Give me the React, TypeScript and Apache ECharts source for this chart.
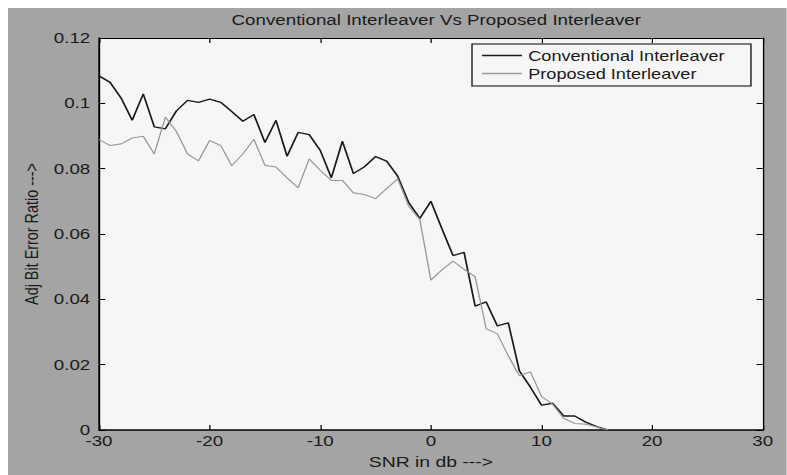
import React, { useEffect, useRef } from "react";
import * as echarts from "echarts";

const snr = [-30,-29,-28,-27,-26,-25,-24,-23,-22,-21,-20,-19,-18,-17,-16,-15,-14,-13,-12,-11,-10,-9,-8,-7,-6,-5,-4,-3,-2,-1,0,1,2,3,4,5,6,7,8,9,10,11,12,13,14,15,16];
const conventional = [0.1084,0.1064,0.1016,0.0948,0.1029,0.0928,0.0922,0.0977,0.1009,0.1003,0.1013,0.1003,0.0975,0.0945,0.0966,0.0880,0.0948,0.0838,0.0911,0.0904,0.0856,0.0772,0.0884,0.0785,0.0806,0.0837,0.0823,0.0777,0.0696,0.0648,0.0700,0.0616,0.0534,0.0544,0.0379,0.0392,0.0319,0.0328,0.0181,0.0131,0.0076,0.0082,0.0043,0.0043,0.0024,0.0010,0.0];
const proposed = [0.0889,0.0871,0.0876,0.0894,0.0899,0.0845,0.0958,0.0914,0.0845,0.0824,0.0886,0.0871,0.0809,0.0845,0.0890,0.0810,0.0805,0.0772,0.0741,0.0830,0.0795,0.0764,0.0764,0.0726,0.0721,0.0708,0.0739,0.0769,0.0685,0.0644,0.0459,0.0490,0.0517,0.0492,0.0469,0.0310,0.0295,0.0227,0.0166,0.0178,0.0103,0.0079,0.0036,0.0020,0.0018,0.0009,0.0];
const xTicks = [-30,-20,-10,0,10,20,30];
const yTicks = [0,0.02,0.04,0.06,0.08,0.1,0.12];

const FONT = "Liberation Sans, Arial, sans-serif";
const SX = 1.25; // the reference figure is stretched horizontally
const CW = 779 / SX;
const CH = 467;

export default function App() {
  const ref = useRef<HTMLDivElement>(null);
  useEffect(() => {
    document.body.style.margin = "0";
    const chart = echarts.init(ref.current!, null, { renderer: "svg" });
    const axisCommon = {
      axisLine: { show: true, onZero: false, lineStyle: { color: "#000", width: 1.5 } },
      axisTick: { show: true, inside: true, length: 5, lineStyle: { color: "#000" } },
      splitLine: { show: false },
    };
    chart.setOption({
      animation: false,
      backgroundColor: "#a4a4a4",
      title: {
        text: "Conventional Interleaver Vs Proposed Interleaver",
        left: 337.6,
        textAlign: "center",
        top: 0,
        textStyle: { fontFamily: FONT, fontSize: 15, fontWeight: "normal", color: "#1a1a1a" },
      },
      grid: {
        left: 72.8, right: 19.2, top: 30, bottom: 44,
        show: true, backgroundColor: "#f6f6f6", borderWidth: 0,
      },
      legend: {
        orient: "vertical",
        left: 371.2, top: 36,
        backgroundColor: "#f6f6f6",
        borderColor: "#000", borderWidth: 1,
        padding: [4, 21, 5, 8],
        itemWidth: 32, itemHeight: 1.5, itemGap: 3,
        textStyle: { fontFamily: FONT, fontSize: 14.5, color: "#1a1a1a" },
        data: [
          { name: "Conventional Interleaver", icon: "rect", itemStyle: { color: "#1a1a1a" } },
          { name: "Proposed Interleaver", icon: "rect", itemStyle: { color: "#9a9a9a" } },
        ],
      },
      xAxis: [
        {
          type: "value", min: -30, max: 30, interval: 10,
          name: "SNR in db --->", nameLocation: "middle", nameGap: 24,
          nameTextStyle: { fontFamily: FONT, fontSize: 15.5, color: "#1a1a1a" },
          axisLabel: {
            fontFamily: FONT, fontSize: 15, color: "#1a1a1a", margin: 4,
            formatter: (v: number) => (xTicks.includes(v) ? String(v) : ""),
          },
          ...axisCommon,
        },
        {
          type: "value", min: -30, max: 30, interval: 10, position: "top",
          axisLabel: { show: false }, ...axisCommon,
          axisLine: { show: true, onZero: false, lineStyle: { color: "#000", width: 1 } },
        },
      ],
      yAxis: [
        {
          type: "value", min: 0, max: 0.12, interval: 0.02,
          name: "Adj Bit Error Ratio --->", nameLocation: "middle", nameGap: 46,
          nameTextStyle: { fontFamily: FONT, fontSize: 14.4, color: "#1a1a1a" },
          axisLabel: {
            fontFamily: FONT, fontSize: 15, color: "#1a1a1a", margin: 7,
            formatter: (v: number) => {
              const t = yTicks.find((y) => Math.abs(y - v) < 1e-9);
              return t === undefined ? "" : String(Number(t.toFixed(2)));
            },
          },
          ...axisCommon,
        },
        {
          type: "value", min: 0, max: 0.12, interval: 0.02, position: "right",
          axisLabel: { show: false }, ...axisCommon,
          axisLine: { show: true, onZero: false, lineStyle: { color: "#000", width: 1 } },
        },
      ],
      series: [
        {
          name: "Conventional Interleaver", type: "line", symbol: "none",
          data: snr.map((x, i) => [x, conventional[i]]),
          lineStyle: { color: "#1a1a1a", width: 1.4 }, itemStyle: { color: "#1a1a1a" },
        },
        {
          name: "Proposed Interleaver", type: "line", symbol: "none",
          data: snr.map((x, i) => [x, proposed[i]]),
          lineStyle: { color: "#9a9a9a", width: 1.1 }, itemStyle: { color: "#9a9a9a" },
        },
      ],
    });
    return () => chart.dispose();
  }, []);
  return (
    <div style={{ position: "relative", width: 787, height: 475, background: "#ffffff", overflow: "hidden" }}>
      <div
        ref={ref}
        style={{
          position: "absolute", left: 8, top: 8, width: CW, height: CH,
          transform: `scaleX(${SX})`, transformOrigin: "0 0",
        }}
      />
    </div>
  );
}
